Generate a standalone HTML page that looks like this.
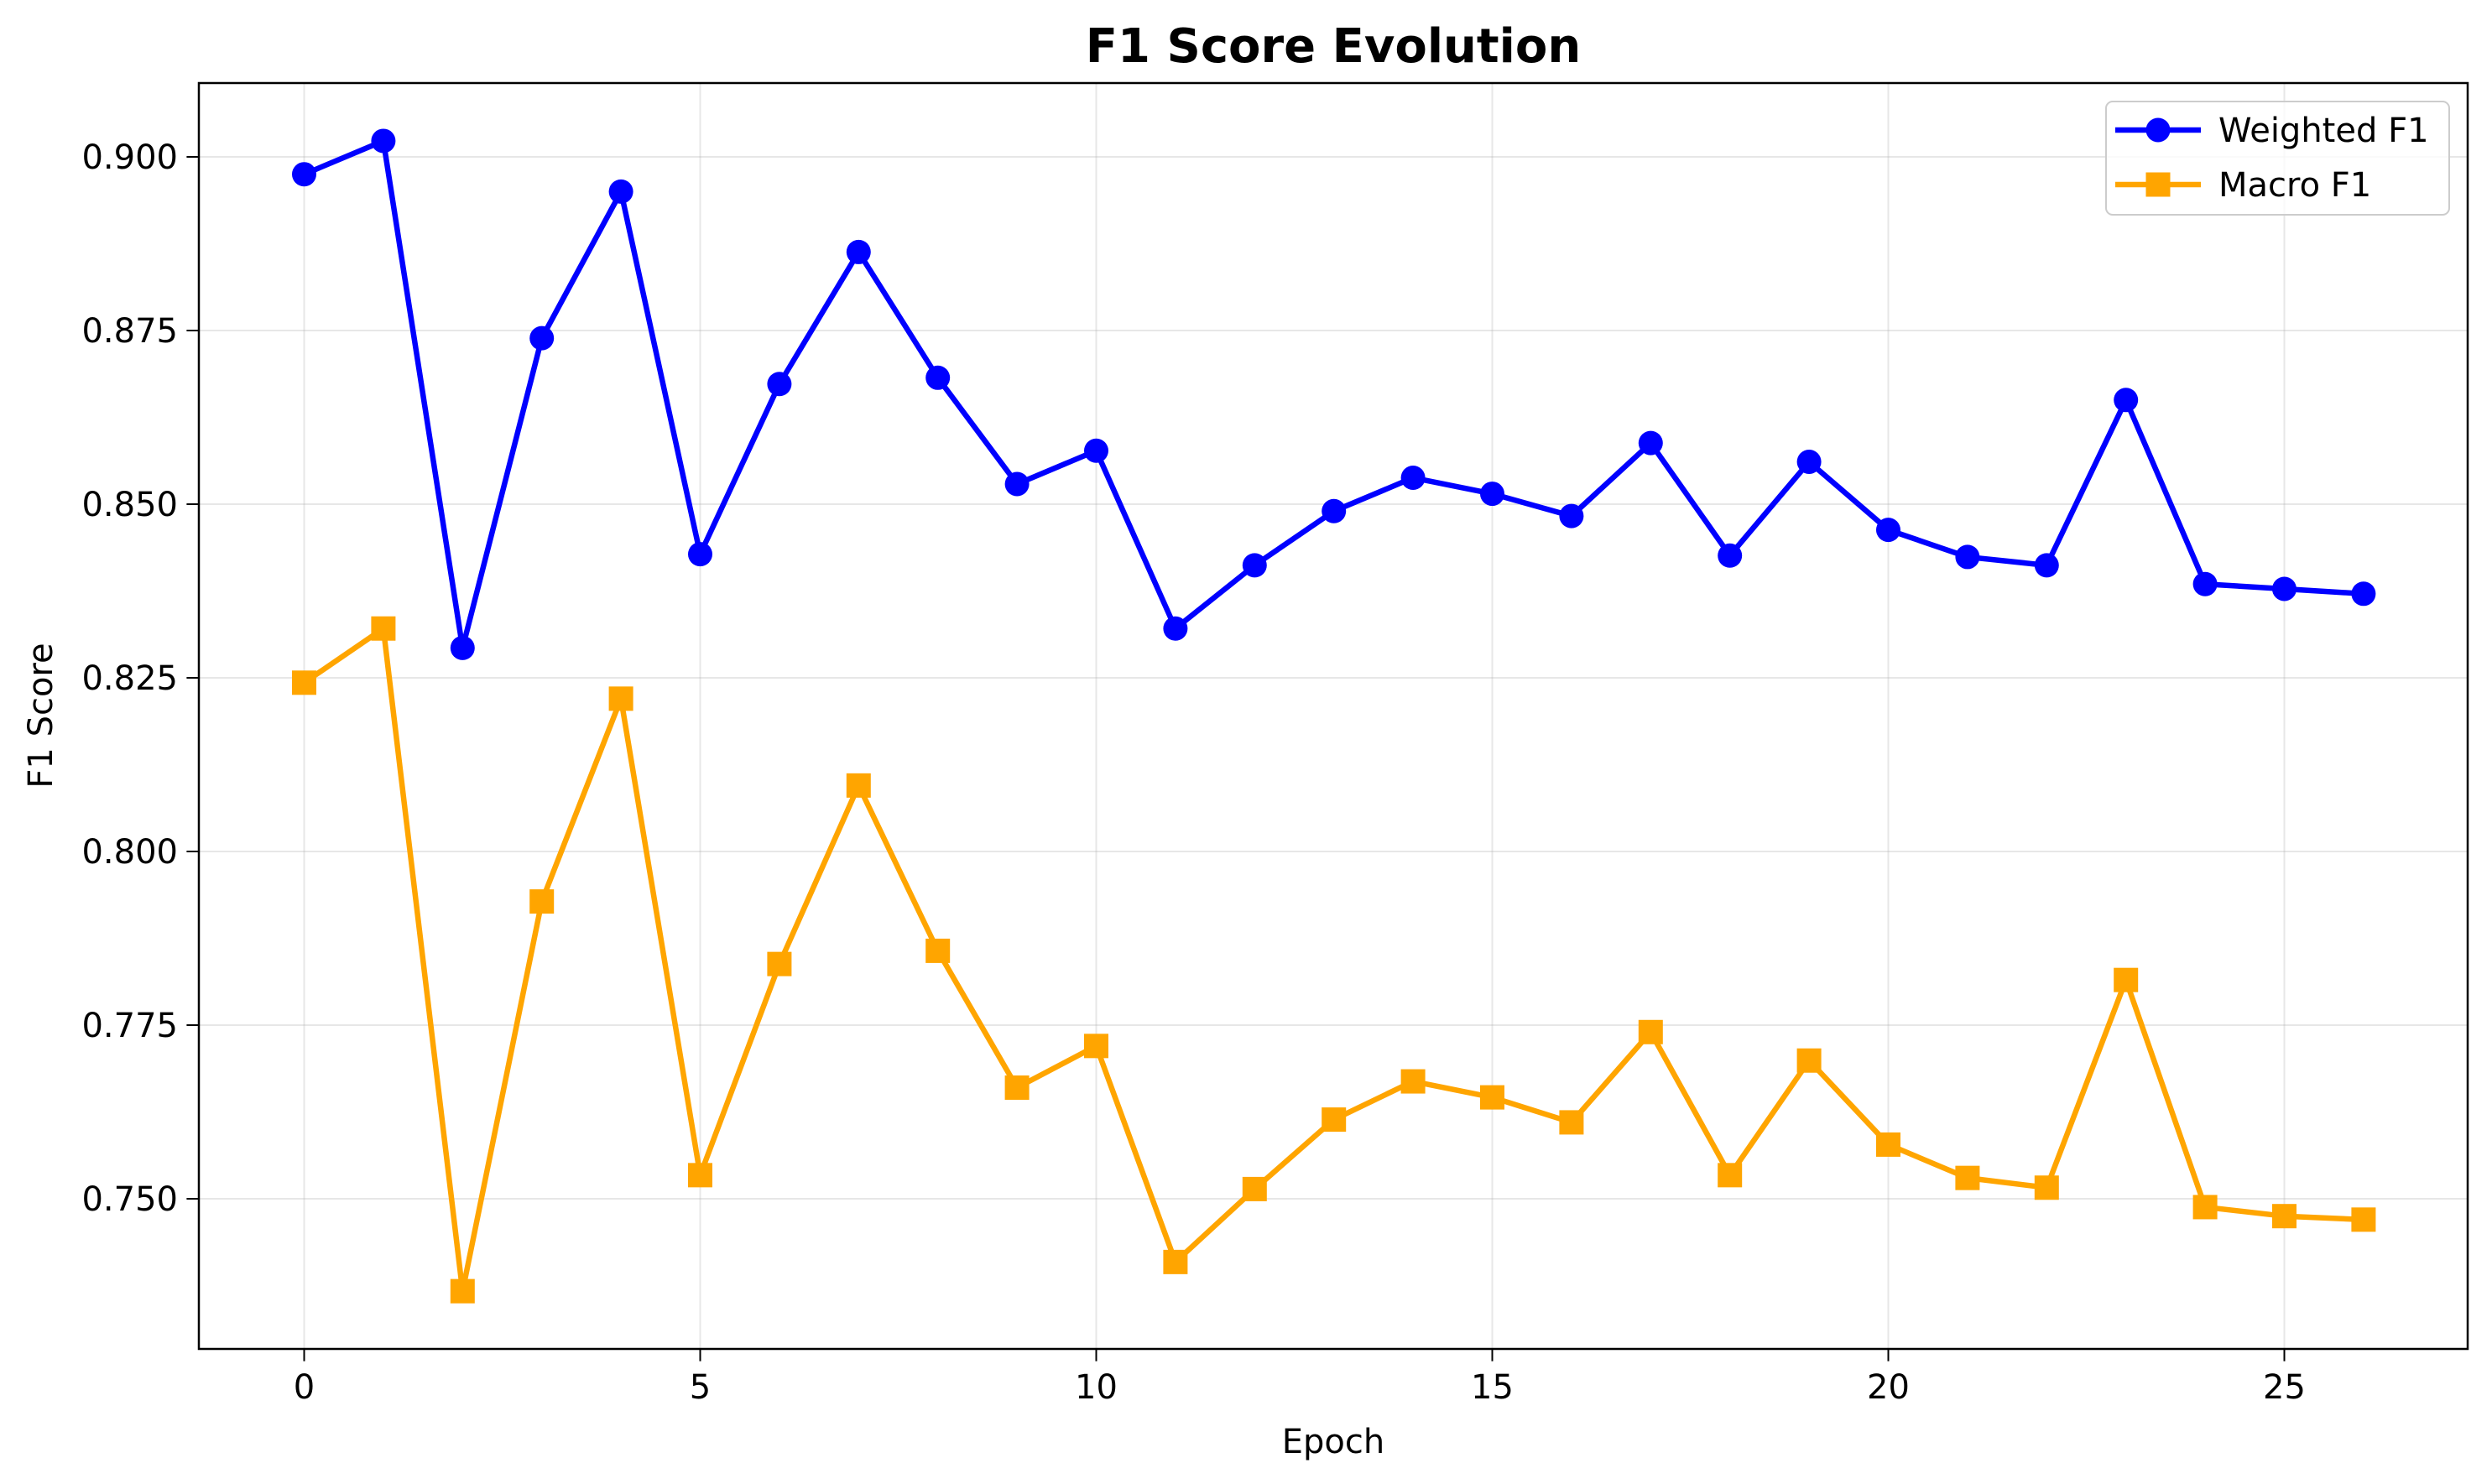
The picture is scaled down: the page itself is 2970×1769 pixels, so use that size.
<!DOCTYPE html>
<html><head><meta charset="utf-8"><style>
html,body{margin:0;padding:0;background:#fff;}
svg{display:block;font-family:"DejaVu Sans","Liberation Sans",sans-serif;}
</style></head><body>
<svg id="chart" width="2970" height="1769" viewBox="0 0 2970 1769" xmlns="http://www.w3.org/2000/svg">
<rect width="2970" height="1769" fill="#fff"/>
<g id="grid"></g>
<g id="series"></g>
<rect x="237" y="99" width="2704" height="1509" fill="none" stroke="#000" stroke-width="2.5"/>
<g id="ticks"></g>
<text x="1589" y="74" text-anchor="middle" font-size="56" font-weight="bold">F1 Score Evolution</text>
<text x="1589" y="1732" text-anchor="middle" font-size="40">Epoch</text>
<text x="0" y="0" transform="translate(62,853) rotate(-90)" text-anchor="middle" font-size="40">F1 Score</text>
<g>
<rect x="2510" y="121" width="409" height="135" rx="8" fill="#fff" fill-opacity="0.8" stroke="#ccc" stroke-width="2"/>
<g>
<line x1="2521" y1="155" x2="2623" y2="155" stroke="#0000ff" stroke-width="6.5"/>
<circle cx="2572" cy="155" r="14.5" fill="#0000ff"/>
<text x="2644" y="169" font-size="40">Weighted F1</text></g>
<g>
<line x1="2521" y1="220" x2="2623" y2="220" stroke="#ffa500" stroke-width="6.5"/>
<rect x="2557.5" y="205.5" width="29" height="29" fill="#ffa500"/>
<text x="2644" y="234" font-size="40">Macro F1</text></g>
</g>
</svg>
<script>
const epochs = [0,1,2,3,4,5,6,7,8,9,10,11,12,13,14,15,16,17,18,19,20,21,22,23,24,25,26];
const weightedF1 = [0.8975,0.9023,0.8293,0.8739,0.8950,0.8428,0.8673,0.8863,0.8682,0.8529,0.8577,0.8321,0.8412,0.8490,0.8538,0.8515,0.8483,0.8588,0.8426,0.8561,0.8463,0.8424,0.8412,0.8650,0.8385,0.8378,0.8371];
const macroF1 = [0.8243,0.8321,0.7367,0.7928,0.8220,0.7534,0.7838,0.8095,0.7857,0.7660,0.7720,0.7409,0.7514,0.7614,0.7669,0.7646,0.7610,0.7740,0.7534,0.7699,0.7578,0.7530,0.7516,0.7815,0.7488,0.7475,0.7470];
const xTicks = [0,5,10,15,20,25];
const yTicks = [0.750,0.775,0.800,0.825,0.850,0.875,0.900];

const NS='http://www.w3.org/2000/svg';
const L=237,R=2941,T=99,B=1608;
function xs(v){return 362.5+v*94.4;}
function ys(v){return 187+(0.9-v)/0.025*207;}
function mk(tag,attrs,parent){const e=document.createElementNS(NS,tag);for(const k in attrs)e.setAttribute(k,attrs[k]);parent.appendChild(e);return e;}
const grid=document.getElementById('grid'),ticks=document.getElementById('ticks'),series=document.getElementById('series');
xTicks.forEach(t=>{
  const x=xs(t);
  const g=mk('line',{x1:x,x2:x,y1:T,y2:B,stroke:'#b0b0b0','stroke-opacity':0.3,'stroke-width':2},grid);
  
  
  const tk=mk('line',{x1:x,x2:x,y1:B,y2:B+14.6,stroke:'#000','stroke-width':2},ticks);
  
  
  const tx=mk('text',{x:x,y:B+59,'text-anchor':'middle','font-size':40},ticks);
  tx.textContent=String(t);
  
  
});
yTicks.forEach(t=>{
  const y=ys(t);
  const g=mk('line',{x1:L,x2:R,y1:y,y2:y,stroke:'#b0b0b0','stroke-opacity':0.3,'stroke-width':2},grid);
  
  
  const tk=mk('line',{x1:L-14.6,x2:L,y1:y,y2:y,stroke:'#000','stroke-width':2},ticks);
  
  
  const tx=mk('text',{x:L-25,y:y+14,'text-anchor':'end','font-size':40},ticks);
  tx.textContent=t.toFixed(3);
  
  
});
function drawSeries(vals,color,shape,name){
  const pts=epochs.map((e,i)=>xs(e)+','+ys(vals[i])).join(' ');
  const pl=mk('polyline',{points:pts,fill:'none',stroke:color,'stroke-width':6.5,'stroke-linejoin':'round'},series);
  
  
  epochs.forEach((e,i)=>{
    let m;
    if(shape==='circle') m=mk('circle',{cx:xs(e),cy:ys(vals[i]),r:14.5,fill:color},series);
    else m=mk('rect',{x:xs(e)-14.5,y:ys(vals[i])-14.5,width:29,height:29,fill:color},series);
    
    
  });
}
drawSeries(weightedF1,'#0000ff','circle','weighted-f1');
drawSeries(macroF1,'#ffa500','square','macro-f1');
</script>
</body></html>
